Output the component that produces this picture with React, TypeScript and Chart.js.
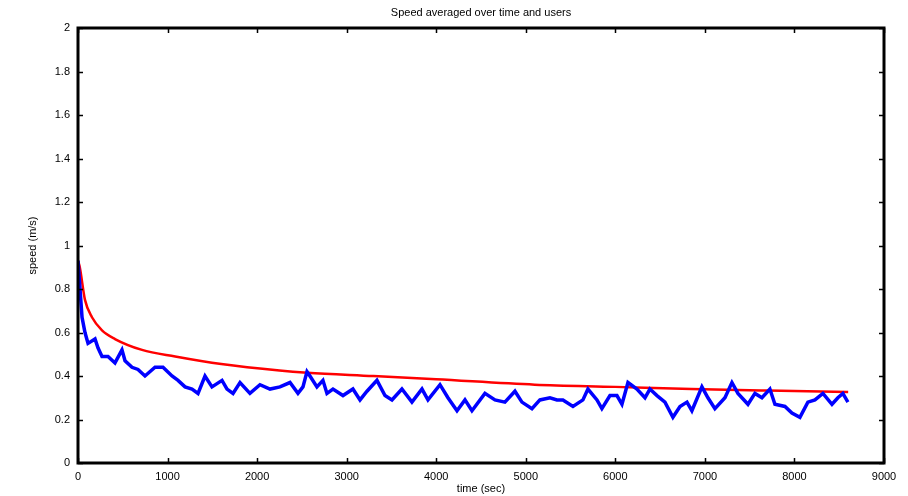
import React, { useEffect, useRef } from "react";
import { Chart, registerables } from "chart.js";

Chart.register(...registerables);

const titleText = "Speed averaged over time and users";
const xTitle = "time (sec)";
const yTitle = "speed (m/s)";

const xTicks = [0, 1000, 2000, 3000, 4000, 5000, 6000, 7000, 8000, 9000];
const yTicks = [0, 0.2, 0.4, 0.6, 0.8, 1, 1.2, 1.4, 1.6, 1.8, 2];

const blueT = [
  0, 45, 78, 112, 190, 223, 268, 335, 413, 491, 525, 603, 670, 748, 860, 949,
  1050, 1117, 1195, 1273, 1340, 1418, 1496, 1608, 1664, 1731, 1809, 1920, 2032,
  2144, 2255, 2367, 2456, 2512, 2557, 2590, 2668, 2735, 2780, 2847, 2959, 3070,
  3149, 3227, 3338, 3428, 3506, 3617, 3729, 3841, 3908, 4042, 4131, 4232, 4321,
  4399, 4544, 4656, 4767, 4879, 4957, 5069, 5158, 5270, 5348, 5415, 5527, 5638,
  5694, 5795, 5850, 5940, 6018, 6074, 6141, 6241, 6331, 6386, 6465, 6554, 6643,
  6722, 6800, 6855, 6967, 7034, 7112, 7224, 7302, 7369, 7481, 7559, 7637, 7726,
  7782, 7894, 7972, 8061, 8150, 8229, 8318, 8419, 8485, 8541, 8597,
];
const blueV = [
  0.93, 0.67, 0.6, 0.55, 0.57, 0.53, 0.49, 0.49, 0.46, 0.52, 0.47, 0.44, 0.43,
  0.4, 0.44, 0.44, 0.4, 0.38, 0.35, 0.34, 0.32, 0.4, 0.35, 0.38, 0.34, 0.32,
  0.37, 0.32, 0.36, 0.34, 0.35, 0.37, 0.32, 0.35, 0.42, 0.4, 0.35, 0.38, 0.32,
  0.34, 0.31, 0.34, 0.29, 0.33, 0.38, 0.31, 0.29, 0.34, 0.28, 0.34, 0.29, 0.36,
  0.3, 0.24, 0.29, 0.24, 0.32, 0.29, 0.28, 0.33, 0.28, 0.25, 0.29, 0.3, 0.29,
  0.29, 0.26, 0.29, 0.34, 0.29, 0.25, 0.31, 0.31, 0.27, 0.37, 0.34, 0.3, 0.34,
  0.31, 0.28, 0.21, 0.26, 0.28, 0.24, 0.35, 0.3, 0.25, 0.3, 0.37, 0.32, 0.27,
  0.32, 0.3, 0.34, 0.27, 0.26, 0.23, 0.21, 0.28, 0.29, 0.32, 0.27, 0.3, 0.32,
  0.28,
];

const redT = [0, 20, 78, 156, 268, 413, 715, 1085, 1600, 2250, 2560, 3300, 4000, 5100, 6000, 6850, 7700, 8600];
const redV = [0.93, 0.9, 0.75, 0.67, 0.61, 0.57, 0.52, 0.49, 0.455, 0.425, 0.415, 0.4, 0.385, 0.36, 0.35, 0.34, 0.333, 0.327];

const FONT = "'Liberation Sans', Arial, Helvetica, sans-serif";

const framePlugin = {
  id: "frame",
  afterDraw(chart: any) {
    const { ctx, chartArea: a, scales } = chart;
    const xs = scales.x;
    const ys = scales.y;
    ctx.save();
    ctx.strokeStyle = "#000";
    ctx.lineWidth = 1.5;
    const tl = 5;
    ctx.beginPath();
    for (const t of xTicks) {
      const px = Math.round(xs.getPixelForValue(t)) + 0.5;
      ctx.moveTo(px, a.bottom);
      ctx.lineTo(px, a.bottom - tl);
      ctx.moveTo(px, a.top);
      ctx.lineTo(px, a.top + tl);
    }
    for (const t of yTicks) {
      const py = Math.round(ys.getPixelForValue(t)) + 0.5;
      ctx.moveTo(a.left, py);
      ctx.lineTo(a.left + tl, py);
      ctx.moveTo(a.right, py);
      ctx.lineTo(a.right - tl, py);
    }
    ctx.stroke();
    ctx.lineWidth = 3;
    ctx.strokeRect(a.left, a.top, a.right - a.left, a.bottom - a.top);
    ctx.fillStyle = "#000";
    ctx.font = `11px ${FONT}`;
    ctx.textAlign = "center";
    ctx.textBaseline = "middle";
    ctx.fillText(titleText, (a.left + a.right) / 2, 13);
    ctx.fillText(xTitle, (a.left + a.right) / 2, 489);
    ctx.translate(33, (a.top + a.bottom) / 2);
    ctx.rotate(-Math.PI / 2);
    ctx.fillText(yTitle, 0, 0);
    ctx.restore();
  },
};

export default function App() {
  const ref = useRef<HTMLCanvasElement>(null);
  useEffect(() => {
    if (!ref.current) return;
    const chart = new Chart(ref.current, {
      type: "line",
      data: {
        datasets: [
          {
            label: "per-interval",
            data: blueT.map((t, i) => ({ x: t, y: blueV[i] })),
            borderColor: "#0000ff",
            borderWidth: 3.5,
            pointRadius: 0,
            tension: 0,
          },
          {
            label: "cumulative",
            data: redT.map((t, i) => ({ x: t, y: redV[i] })),
            borderColor: "#ff0000",
            borderWidth: 2.5,
            pointRadius: 0,
            cubicInterpolationMode: "monotone",
          },
        ],
      },
      options: {
        animation: false,
        responsive: false,
        maintainAspectRatio: false,
        layout: { padding: { top: 28, right: 24, left: 0, bottom: 0 } },
        plugins: {
          legend: { display: false },
          title: { display: false },
          tooltip: { enabled: false },
        },
        scales: {
          x: {
            type: "linear",
            min: 0,
            max: 9000,
            grid: { display: false, drawTicks: false },
            border: { display: false },
            afterFit(s: any) {
              s.height = 33;
            },
            afterBuildTicks(s: any) {
              s.ticks = xTicks.map((v) => ({ value: v }));
            },
            ticks: {
              color: "#000",
              font: { family: FONT, size: 11 },
              padding: 7,
              maxRotation: 0,
              callback: (v: any) => String(v),
            },
          },
          y: {
            type: "linear",
            min: 0,
            max: 2,
            grid: { display: false, drawTicks: false },
            border: { display: false },
            afterFit(s: any) {
              s.width = 78;
            },
            afterBuildTicks(s: any) {
              s.ticks = yTicks.map((v) => ({ value: v }));
            },
            ticks: {
              color: "#000",
              font: { family: FONT, size: 11 },
              padding: 8,
              callback: (v: any) => String(Math.round(v * 10) / 10),
            },
          },
        },
      },
      plugins: [framePlugin],
    });
    return () => chart.destroy();
  }, []);
  return (
    <div style={{ position: "fixed", left: 0, top: 0, width: 908, height: 496, background: "#fff" }}>
      <canvas ref={ref} width={908} height={496} style={{ width: 908, height: 496, display: "block" }} />
    </div>
  );
}
